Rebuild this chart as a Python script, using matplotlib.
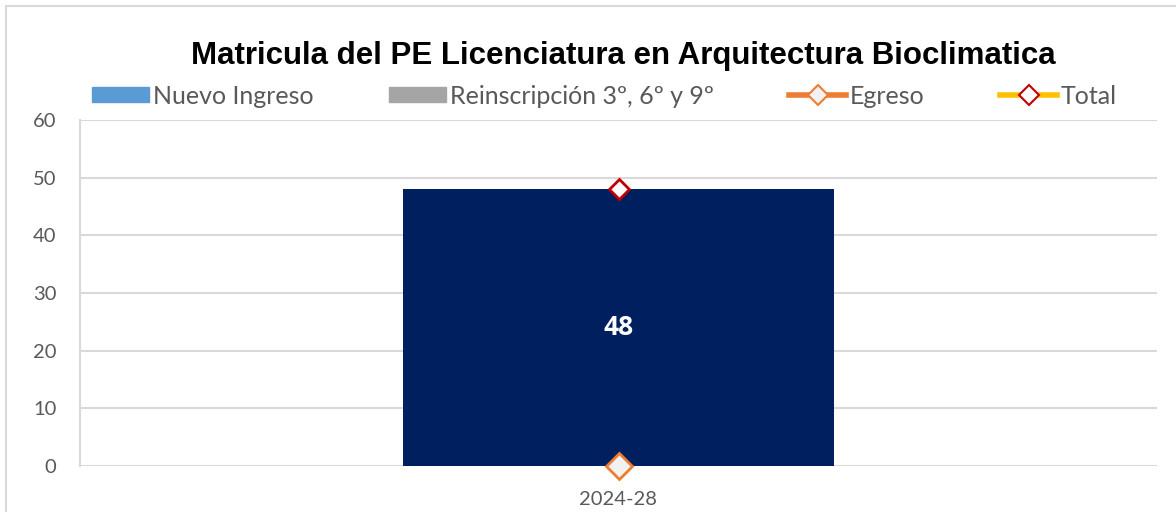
import matplotlib.pyplot as plt
from matplotlib.patches import Patch, Rectangle
from matplotlib.lines import Line2D

# data
periodos = ['2024-28']
nuevo_ingreso = [48]
reinscripcion = [0]
egreso = [0]
total = [48]

plt.rcParams['font.family'] = ['Lato', 'DejaVu Sans']

fig = plt.figure(figsize=(11.76, 5.12), dpi=100)
ax = fig.add_axes([80 / 1176, 46 / 512, 1077 / 1176, 346 / 512])

x = range(len(periodos))
bars = ax.bar(x, nuevo_ingreso, width=0.4, color='#001F5F', zorder=2)
ax.bar(x, reinscripcion, width=0.4, bottom=nuevo_ingreso, color='#A5A5A5', zorder=2)
for b, v in zip(bars, nuevo_ingreso):
    ax.text(b.get_x() + b.get_width() / 2, v / 2, str(v), ha='center', va='center',
            color='white', fontsize=19, fontweight='bold', family=['Open Sans', 'DejaVu Sans'],
            zorder=3)

ax.plot(x, egreso, color='#ED7D31', lw=3, marker='D', ms=13, mfc='#F2F2F2',
        mec='#ED7D31', mew=2, zorder=4, clip_on=False)
ax.plot(x, total, color='#FFC000', lw=3, marker='D', ms=10, mfc='white',
        mec='#C00000', mew=2, zorder=4, clip_on=False)

ax.set_xlim(-0.5, 0.5)
ax.set_ylim(0, 60)
ax.set_yticks(range(0, 61, 10))
ax.set_xticks(list(x))
ax.set_xticklabels(periodos)
ax.grid(axis='y', color='#D9D9D9', lw=1.5, zorder=0)
ax.tick_params(axis='both', length=0, colors='#595959', labelsize=14.5)
ax.tick_params(axis='y', pad=17)
ax.tick_params(axis='x', pad=18)
for s in ['top', 'right', 'bottom']:
    ax.spines[s].set_visible(False)
ax.spines['left'].set_color('#D9D9D9')
ax.spines['left'].set_linewidth(1.5)

fig.suptitle('Matricula del PE Licenciatura en Arquitectura Bioclimatica',
             x=0.53, y=1 - 56 / 512, va='center', fontsize=22.5, fontweight='bold',
             family=['Liberation Sans'])

handles = [
    Patch(color='#5B9BD5'),
    Patch(color='#A5A5A5'),
    Line2D([], [], color='#ED7D31', lw=4, marker='D', ms=10, mfc='#F2F2F2', mec='#ED7D31', mew=1.5),
    Line2D([], [], color='#FFC000', lw=4, marker='D', ms=10, mfc='white', mec='#C00000', mew=1.5),
]
labels = ['Nuevo Ingreso', 'Reinscripción 3º, 6º y 9º', 'Egreso', 'Total']
leg = fig.legend(handles, labels, loc='center', bbox_to_anchor=(0.514, 1 - 96 / 512),
                 ncol=4, frameon=False, fontsize=18, handlelength=2.3, handleheight=0.55,
                 handletextpad=0.15, columnspacing=3.0, labelcolor='#595959')

fig.add_artist(Rectangle((6 / 1176, -0.1), 1.2, 1.1 - 6 / 512, transform=fig.transFigure,
                         fill=False, edgecolor='#D9D9D9', lw=1.5))

fig.savefig('out.png', dpi=100)
